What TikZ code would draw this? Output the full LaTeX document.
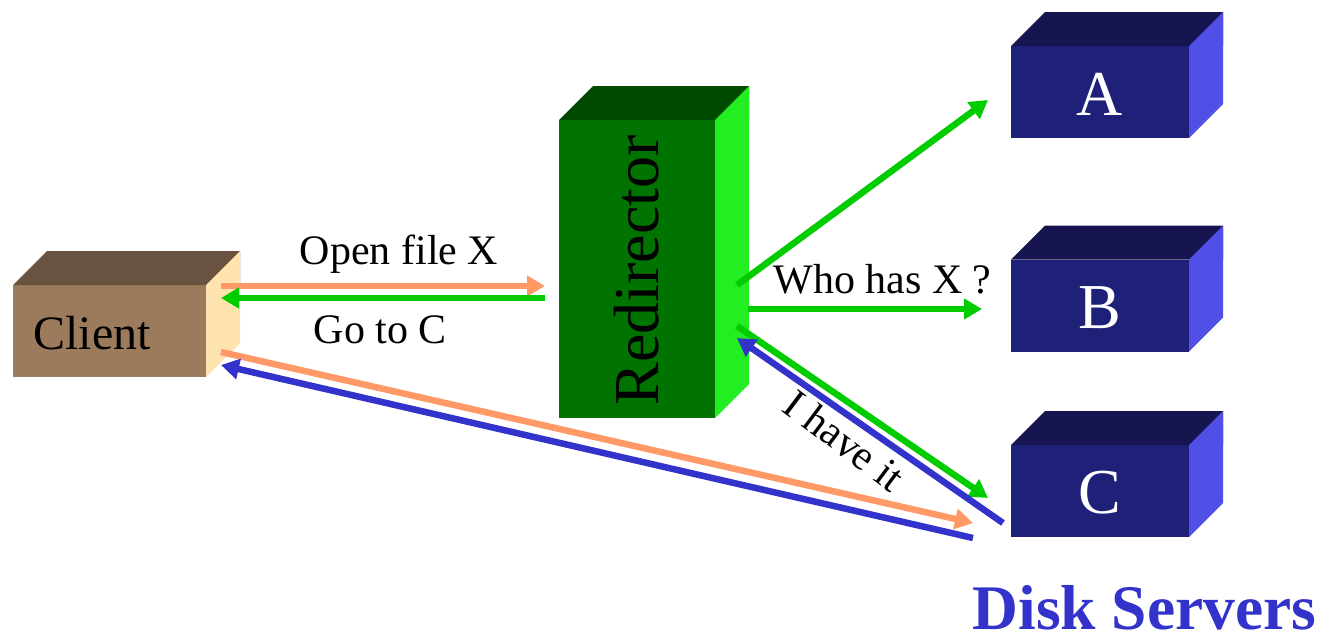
\documentclass[tikz,border=0pt]{standalone}
\usepackage{fontspec}
\setmainfont{Liberation Serif}
\usepackage{xcolor}
\usetikzlibrary{arrows.meta}
\definecolor{clientfront}{RGB}{156,123,92}
\definecolor{clienttop}{RGB}{105,82,64}
\definecolor{clientside}{RGB}{255,227,175}
\definecolor{redirfront}{RGB}{0,115,0}
\definecolor{redirtop}{RGB}{0,74,0}
\definecolor{redirside}{RGB}{34,238,34}
\definecolor{diskfront}{RGB}{31,32,120}
\definecolor{disktop}{RGB}{22,21,79}
\definecolor{diskside}{RGB}{80,80,230}
\definecolor{msggreen}{RGB}{0,204,0}
\definecolor{msgorange}{RGB}{255,153,102}
\definecolor{msgblue}{RGB}{51,51,204}

% front of a box is the node, this adds its top and right faces
\newcommand{\boxfaces}[3]{%
  \fill[#2] (#1.north west) -- ++(34,-34) -| ([xshift=34pt]#1.north east) -- (#1.north east) -- cycle;
  \fill[#3] (#1.north east) -- ++(34,-34) -- ([shift={(34pt,34pt)}]#1.south east) -- (#1.south east) -- cycle;
}

\begin{document}
\begin{tikzpicture}[
  x=1pt, y=-1pt,
  front/.style={inner sep=0pt, outer sep=0pt, minimum height=92pt},
  disk/.style={front, fill=diskfront, minimum width=178pt},
  disktext/.style={text=white, inner sep=0pt, font=\fontsize{64}{68}\selectfont},
  msg/.style={line width=6.5pt},
  label/.style={font=\fontsize{42}{48}\selectfont, inner sep=0pt},
  >={Triangle[length=18pt,width=20pt]},
  ]
  \useasboundingbox (0,0) rectangle (1317,632);

  % Client
  \node[front, fill=clientfront, minimum width=193pt] (client) at (109.5,331) {};
  \boxfaces{client}{clienttop}{clientside}
  \node[font=\fontsize{48}{54}\selectfont, inner sep=0pt] (clientlbl) at (92,333) {Client};

  % Redirector
  \node[front, fill=redirfront, minimum width=156pt, minimum height=298pt] (redir) at (637,269) {};
  \boxfaces{redir}{redirtop}{redirside}
  \node[rotate=90, font=\fontsize{64}{70}\selectfont, inner sep=0pt] (redirlbl) at (637,270.5) {Redirector};

  % Disk servers
  \foreach \name/\ypos in {A/92, B/305.5, C/491}{
    \node[disk] (disk\name) at (1100,\ypos) {};
    \boxfaces{disk\name}{disktop}{diskside}
    \node[disktext] (lbl\name) at ([yshift=-2pt]disk\name) {\name};
  }
  \node[font=\fontsize{63.5}{68}\selectfont\bfseries, text=msgblue, inner sep=0pt] (disklbl) at (1144.5,608) {Disk Servers};

  % Arrow ends
  \coordinate (cliHi) at (221,286);
  \coordinate (cliMid) at (221,298);
  \coordinate (cliLo) at (221,352);
  \coordinate (cliBack) at (221,365);
  \coordinate (redHi) at (545,286);
  \coordinate (redMid) at (545,298);
  \coordinate (askA) at (737,285);
  \coordinate (askB) at (748,309);
  \coordinate (askC) at (737,326);
  \coordinate (haveC) at (737,338);
  \coordinate (toA) at (988,100);
  \coordinate (toB) at (982,309);
  \coordinate (toC) at (988,498);
  \coordinate (fromC) at (1003,523);
  \coordinate (cliToC) at (973,523);
  \coordinate (cToCli) at (973,538);

  % Client <-> redirector
  \draw[->, msg, msgorange] (cliHi) -- (redHi);
  \draw[->, msg, msggreen] (redMid) -- (cliMid);
  % Redirector <-> servers
  \draw[->, msg, msggreen] (askA) -- (toA);
  \draw[->, msg, msggreen] (askB) -- (toB);
  \draw[->, msg, msggreen] (askC) -- (toC);
  \draw[->, msg, msgblue] (fromC) -- (haveC);
  % Client <-> C
  \draw[->, msg, msgorange] (cliLo) -- (cliToC);
  \draw[->, msg, msgblue] (cToCli) -- (cliBack);

  % Labels
  \node[label] (openlbl) at (399,254.5) {Open file X};
  \node[label] (golbl) at (380.5,330) {Go to C};
  \node[label] (wholbl) at (882.5,279) {Who has X ?};
  \node[label, rotate=-37] (havelbl) at (844.5,440.5) {I have it};
\end{tikzpicture}
\end{document}
